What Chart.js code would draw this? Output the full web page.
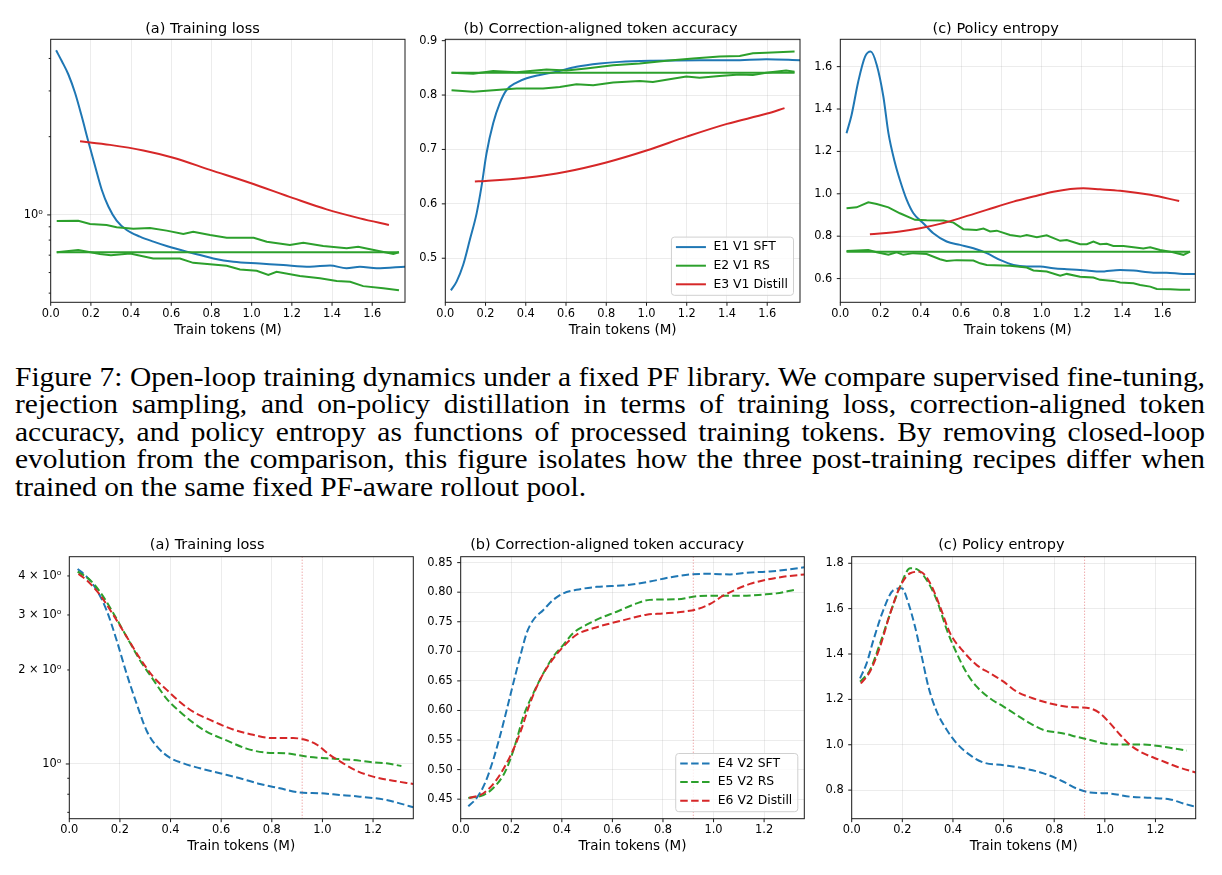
<!DOCTYPE html>
<html>
<head>
<meta charset="utf-8">
<script src="https://cdn.jsdelivr.net/npm/chart.js@4.4.1/dist/chart.umd.min.js"></script>
<style>
  html, body { margin: 0; padding: 0; background: #fff; }
  #fig { position: relative; width: 1222px; height: 875px; overflow: hidden; background: #fff; }
  #fig canvas { position: absolute; }
  .cap {
    position: absolute; left: 15px; white-space: normal;
    font-family: 'Liberation Serif', 'Times New Roman', serif;
    font-size: 28px; line-height: 28px; color: #000;
    text-align: justify; text-align-last: justify; transform-origin: 0 0;
  }
  .cap.last { text-align-last: left; }
</style>
</head>
<body>
<div id="fig"></div>
<script>
// ---- tick values / labels ----
const xTicks1 = [0, 0.2, 0.4, 0.6, 0.8, 1.0, 1.2, 1.4, 1.6];
const xTickLabels1 = ['0.0', '0.2', '0.4', '0.6', '0.8', '1.0', '1.2', '1.4', '1.6'];
const xTicks2 = [0, 0.2, 0.4, 0.6, 0.8, 1.0, 1.2];
const xTickLabels2 = ['0.0', '0.2', '0.4', '0.6', '0.8', '1.0', '1.2'];

const lossTicks1 = [0.5, 0.6, 0.7, 0.8, 0.9, 1, 2, 3, 4];
const lossTickLabels1 = ['', '', '', '', '', '10\u2070', '', '', ''];
const accTicks1 = [0.5, 0.6, 0.7, 0.8, 0.9];
const accTickLabels1 = ['0.5', '0.6', '0.7', '0.8', '0.9'];
const entTicks1 = [0.6, 0.8, 1.0, 1.2, 1.4, 1.6];
const entTickLabels1 = ['0.6', '0.8', '1.0', '1.2', '1.4', '1.6'];

const lossTicks2 = [0.7, 0.8, 0.9, 1, 2, 3, 4];
const lossTickLabels2 = ['', '', '', '10\u2070', '2 \u00d7 10\u2070', '3 \u00d7 10\u2070', '4 \u00d7 10\u2070'];
const accTicks2 = [0.45, 0.5, 0.55, 0.6, 0.65, 0.7, 0.75, 0.8, 0.85];
const accTickLabels2 = ['0.45', '0.50', '0.55', '0.60', '0.65', '0.70', '0.75', '0.80', '0.85'];
const entTicks2 = [0.8, 1.0, 1.2, 1.4, 1.6, 1.8];
const entTickLabels2 = ['0.8', '1.0', '1.2', '1.4', '1.6', '1.8'];

// ---- top row (V1, fixed library) ----
const lossSftX = [0.027, 0.055, 0.088, 0.121, 0.154, 0.187, 0.221, 0.254, 0.287, 0.328, 0.378, 0.444, 0.511, 0.577, 0.677, 0.743, 0.809, 0.909, 1.041, 1.157, 1.29, 1.39, 1.472, 1.539, 1.622, 1.763];
const lossSftY = [4.30, 3.91, 3.47, 2.95, 2.40, 1.92, 1.54, 1.25, 1.077, 0.951, 0.875, 0.825, 0.789, 0.759, 0.722, 0.701, 0.68, 0.66, 0.65, 0.641, 0.632, 0.639, 0.623, 0.632, 0.623, 0.632];
const lossRsAX = [0.03, 0.137, 0.196, 0.278, 0.328, 0.411, 0.494, 0.577, 0.66, 0.709, 0.793, 0.876, 1.01, 1.075, 1.19, 1.257, 1.356, 1.473, 1.53, 1.62, 1.705, 1.733];
const lossRsAY = [0.948, 0.95, 0.923, 0.915, 0.897, 0.885, 0.891, 0.87, 0.845, 0.862, 0.837, 0.817, 0.817, 0.789, 0.766, 0.782, 0.759, 0.744, 0.754, 0.729, 0.707, 0.718];
const lossRsBX = [0.03, 1.733];
const lossRsBY = [0.718, 0.718];
const lossRsCX = [0.03, 0.137, 0.245, 0.3, 0.395, 0.51, 0.643, 0.709, 0.876, 0.942, 1.025, 1.083, 1.124, 1.24, 1.34, 1.423, 1.49, 1.555, 1.655, 1.733];
const lossRsCY = [0.718, 0.733, 0.707, 0.70, 0.71, 0.68, 0.68, 0.654, 0.637, 0.617, 0.61, 0.587, 0.604, 0.582, 0.57, 0.557, 0.553, 0.532, 0.522, 0.513];
const lossDistX = [0.146, 0.295, 0.461, 0.61, 0.793, 0.99, 1.207, 1.373, 1.539, 1.683];
const lossDistY = [1.92, 1.86, 1.77, 1.66, 1.49, 1.33, 1.16, 1.05, 0.97, 0.915];

const accSftX = [0.028, 0.056, 0.089, 0.122, 0.156, 0.18, 0.205, 0.238, 0.271, 0.304, 0.354, 0.404, 0.47, 0.553, 0.652, 0.768, 0.867, 1.032, 1.264, 1.43, 1.595, 1.763];
const accSftY = [0.441, 0.457, 0.488, 0.534, 0.583, 0.632, 0.693, 0.748, 0.785, 0.809, 0.823, 0.831, 0.837, 0.843, 0.852, 0.858, 0.861, 0.863, 0.864, 0.864, 0.866, 0.864];
const accRsAX = [0.031, 0.139, 0.238, 0.354, 0.503, 0.602, 0.7, 0.834, 0.966, 1.099, 1.231, 1.363, 1.463, 1.529, 1.595, 1.736];
const accRsAY = [0.841, 0.839, 0.844, 0.842, 0.847, 0.845, 0.849, 0.855, 0.858, 0.863, 0.867, 0.871, 0.872, 0.877, 0.878, 0.88];
const accRsBX = [0.031, 1.736];
const accRsBY = [0.841, 0.841];
const accRsCX = [0.031, 0.139, 0.238, 0.354, 0.486, 0.569, 0.652, 0.735, 0.834, 0.966, 1.032, 1.099, 1.198, 1.264, 1.363, 1.463, 1.529, 1.595, 1.694, 1.736];
const accRsCY = [0.809, 0.806, 0.809, 0.812, 0.812, 0.815, 0.82, 0.818, 0.823, 0.826, 0.824, 0.828, 0.834, 0.832, 0.835, 0.838, 0.837, 0.841, 0.845, 0.843];
const accDistX = [0.147, 0.2, 0.4, 0.6, 0.8, 1.0, 1.2, 1.4, 1.6, 1.686];
const accDistY = [0.641, 0.642, 0.648, 0.659, 0.676, 0.698, 0.7235, 0.747, 0.766, 0.776];

const entSftX = [0.031, 0.056, 0.089, 0.123, 0.151, 0.181, 0.214, 0.239, 0.272, 0.296, 0.33, 0.363, 0.412, 0.462, 0.528, 0.595, 0.661, 0.727, 0.793, 0.86, 0.926, 0.992, 1.058, 1.125, 1.224, 1.29, 1.39, 1.456, 1.555, 1.62, 1.704, 1.763];
const entSftY = [1.286, 1.372, 1.529, 1.647, 1.671, 1.608, 1.458, 1.286, 1.144, 1.065, 0.971, 0.908, 0.861, 0.814, 0.775, 0.759, 0.743, 0.72, 0.688, 0.664, 0.657, 0.657, 0.649, 0.644, 0.638, 0.633, 0.641, 0.638, 0.628, 0.628, 0.622, 0.622];
const entRsAX = [0.031, 0.081, 0.139, 0.181, 0.239, 0.296, 0.371, 0.429, 0.512, 0.562, 0.611, 0.677, 0.711, 0.744, 0.777, 0.843, 0.893, 0.926, 0.976, 1.025, 1.092, 1.125, 1.191, 1.224, 1.257, 1.29, 1.323, 1.356, 1.406, 1.456, 1.505, 1.539, 1.588, 1.638, 1.704, 1.737];
const entRsAY = [0.932, 0.936, 0.96, 0.952, 0.936, 0.908, 0.877, 0.875, 0.874, 0.864, 0.833, 0.829, 0.836, 0.822, 0.826, 0.806, 0.798, 0.806, 0.795, 0.804, 0.778, 0.782, 0.762, 0.762, 0.775, 0.762, 0.764, 0.754, 0.754, 0.748, 0.742, 0.748, 0.735, 0.727, 0.712, 0.727];
const entRsBX = [0.031, 1.737];
const entRsBY = [0.727, 0.727];
const entRsCX = [0.031, 0.139, 0.181, 0.239, 0.28, 0.313, 0.363, 0.429, 0.495, 0.528, 0.578, 0.661, 0.694, 0.727, 0.843, 0.926, 0.959, 1.025, 1.092, 1.125, 1.191, 1.257, 1.29, 1.356, 1.39, 1.456, 1.489, 1.539, 1.572, 1.638, 1.688, 1.737];
const entRsCY = [0.73, 0.735, 0.724, 0.712, 0.724, 0.712, 0.72, 0.716, 0.691, 0.683, 0.687, 0.685, 0.672, 0.664, 0.66, 0.652, 0.638, 0.633, 0.613, 0.622, 0.609, 0.605, 0.594, 0.589, 0.581, 0.578, 0.57, 0.562, 0.551, 0.55, 0.547, 0.547];
const entDistX = [0.147, 0.296, 0.396, 0.495, 0.595, 0.727, 0.86, 0.959, 1.058, 1.207, 1.29, 1.39, 1.539, 1.683];
const entDistY = [0.809, 0.822, 0.837, 0.858, 0.885, 0.924, 0.963, 0.987, 1.01, 1.026, 1.021, 1.014, 0.995, 0.966];

// ---- bottom row (V2) ----
const switchTokens = 0.92;

const loss2SftX = [0.033, 0.068, 0.108, 0.147, 0.187, 0.226, 0.266, 0.305, 0.345, 0.397, 0.45, 0.516, 0.595, 0.674, 0.753, 0.832, 0.911, 0.989, 1.068, 1.147, 1.253, 1.305, 1.359];
const loss2SftY = [4.21, 3.98, 3.61, 3.11, 2.49, 1.95, 1.56, 1.28, 1.14, 1.048, 1.005, 0.969, 0.934, 0.9, 0.863, 0.836, 0.81, 0.806, 0.796, 0.786, 0.767, 0.748, 0.727];
const loss2RsX = [0.033, 0.082, 0.121, 0.174, 0.226, 0.279, 0.332, 0.384, 0.437, 0.489, 0.542, 0.621, 0.7, 0.779, 0.858, 0.937, 1.016, 1.121, 1.2, 1.253, 1.312];
const loss2RsY = [4.13, 3.88, 3.56, 3.04, 2.56, 2.15, 1.86, 1.62, 1.47, 1.356, 1.27, 1.19, 1.12, 1.087, 1.082, 1.056, 1.043, 1.03, 1.012, 1.005, 0.985];
const loss2DistX = [0.036, 0.068, 0.121, 0.174, 0.226, 0.279, 0.332, 0.384, 0.437, 0.489, 0.542, 0.595, 0.647, 0.726, 0.805, 0.884, 0.924, 0.976, 1.029, 1.082, 1.134, 1.2, 1.279, 1.359];
const loss2DistY = [4.06, 3.88, 3.48, 3.0, 2.56, 2.18, 1.9, 1.73, 1.58, 1.47, 1.40, 1.34, 1.29, 1.24, 1.21, 1.21, 1.2, 1.156, 1.069, 1.005, 0.952, 0.911, 0.884, 0.863];

const acc2SftX = [0.03, 0.063, 0.096, 0.129, 0.155, 0.182, 0.208, 0.235, 0.261, 0.287, 0.327, 0.366, 0.406, 0.458, 0.538, 0.656, 0.748, 0.827, 0.906, 0.986, 1.065, 1.13, 1.223, 1.289, 1.359];
const acc2SftY = [0.438, 0.452, 0.477, 0.517, 0.556, 0.601, 0.646, 0.691, 0.731, 0.753, 0.77, 0.787, 0.798, 0.804, 0.809, 0.812, 0.818, 0.825, 0.83, 0.831, 0.83, 0.833, 0.835, 0.838, 0.842];
const acc2RsX = [0.03, 0.09, 0.129, 0.169, 0.195, 0.221, 0.248, 0.287, 0.327, 0.366, 0.406, 0.445, 0.498, 0.551, 0.617, 0.696, 0.748, 0.854, 0.933, 1.012, 1.117, 1.196, 1.249, 1.321];
const acc2RsY = [0.452, 0.457, 0.469, 0.491, 0.516, 0.55, 0.59, 0.629, 0.663, 0.691, 0.711, 0.731, 0.745, 0.756, 0.767, 0.781, 0.787, 0.788, 0.793, 0.794, 0.794, 0.796, 0.798, 0.804];
const acc2DistX = [0.034, 0.09, 0.142, 0.195, 0.235, 0.274, 0.314, 0.353, 0.406, 0.458, 0.524, 0.59, 0.656, 0.735, 0.801, 0.88, 0.933, 0.986, 1.038, 1.091, 1.144, 1.209, 1.275, 1.359];
const acc2DistY = [0.452, 0.46, 0.483, 0.522, 0.562, 0.612, 0.652, 0.68, 0.708, 0.728, 0.739, 0.747, 0.754, 0.762, 0.764, 0.767, 0.771, 0.78, 0.794, 0.805, 0.814, 0.821, 0.826, 0.83];

const ent2SftX = [0.033, 0.059, 0.086, 0.125, 0.165, 0.198, 0.224, 0.25, 0.277, 0.303, 0.336, 0.376, 0.415, 0.468, 0.52, 0.6, 0.679, 0.758, 0.837, 0.889, 0.942, 1.021, 1.1, 1.179, 1.258, 1.311, 1.359];
const ent2SftY = [1.293, 1.359, 1.462, 1.594, 1.682, 1.69, 1.624, 1.521, 1.388, 1.256, 1.146, 1.065, 1.006, 0.954, 0.922, 0.91, 0.896, 0.874, 0.837, 0.807, 0.79, 0.785, 0.771, 0.766, 0.759, 0.741, 0.726];
const ent2RsX = [0.033, 0.072, 0.112, 0.152, 0.191, 0.231, 0.257, 0.296, 0.336, 0.376, 0.415, 0.455, 0.494, 0.547, 0.6, 0.652, 0.705, 0.758, 0.837, 0.889, 0.942, 0.995, 1.074, 1.153, 1.232, 1.324];
const ent2RsY = [1.278, 1.329, 1.447, 1.579, 1.697, 1.778, 1.774, 1.726, 1.638, 1.506, 1.403, 1.315, 1.256, 1.204, 1.168, 1.131, 1.094, 1.065, 1.05, 1.035, 1.021, 1.006, 1.001, 1.001, 0.991, 0.974];
const ent2DistX = [0.036, 0.072, 0.112, 0.152, 0.191, 0.231, 0.27, 0.31, 0.349, 0.389, 0.442, 0.494, 0.547, 0.6, 0.652, 0.718, 0.784, 0.85, 0.889, 0.942, 0.982, 1.021, 1.061, 1.1, 1.153, 1.219, 1.285, 1.359];
const ent2DistY = [1.27, 1.322, 1.432, 1.579, 1.697, 1.756, 1.763, 1.712, 1.609, 1.491, 1.41, 1.351, 1.315, 1.278, 1.234, 1.204, 1.182, 1.168, 1.165, 1.16, 1.138, 1.094, 1.043, 0.999, 0.962, 0.932, 0.903, 0.878];

const captionLines = [
  'Figure 7: Open-loop training dynamics under a fixed PF library. We compare supervised fine-tuning,',
  'rejection sampling, and on-policy distillation in terms of training loss, correction-aligned token',
  'accuracy, and policy entropy as functions of processed training tokens.  By removing closed-loop',
  'evolution from the comparison, this figure isolates how the three post-training recipes differ when',
  'trained on the same fixed PF-aware rollout pool.',
];

// ---- styling ----
const TAB_BLUE = '#1f77b4';
const TAB_GREEN = '#2ca02c';
const TAB_RED = '#d62728';
const FONT = '"DejaVu Sans", sans-serif';
const GRID = 'rgba(176,176,176,0.3)';
const SPINE = '#1a1a1a';
const LINE_W = 2;
const DASH = [7.5, 3.4];

Chart.defaults.font.family = FONT;
Chart.defaults.color = '#000';

function pts(xs, ys) {
  return xs.map((x, i) => ({ x, y: ys[i] }));
}

function series(label, xs, ys, color, opts = {}) {
  return {
    label,
    data: pts(xs, ys),
    borderColor: color,
    backgroundColor: color,
    borderWidth: opts.width || LINE_W,
    borderDash: opts.dash || [],
    pointRadius: 0,
    pointHoverRadius: 0,
    fill: false,
    tension: 0,
    cubicInterpolationMode: opts.jagged ? 'default' : 'monotone',
    showInLegend: !!opts.legend,
    order: opts.order || 0,
  };
}

function switchLine(yMin, yMax) {
  return series('', [switchTokens, switchTokens], [yMin, yMax], 'rgba(214,39,40,0.55)',
    { jagged: true, width: 1, dash: [1, 2], order: 0 });
}

// draws spines, outward tick marks and the in-axes legend, matplotlib style
const mplAxes = {
  id: 'mplAxes',
  afterDatasetsDraw(chart, args, opts) {
    const ctx = chart.ctx;
    const a = chart.chartArea;
    const xs = chart.scales.x;
    const ys = chart.scales.y;
    ctx.save();
    ctx.strokeStyle = SPINE;
    ctx.lineWidth = 1;
    ctx.beginPath();
    xs.ticks.forEach(t => {
      const px = xs.getPixelForValue(t.value);
      ctx.moveTo(px, a.bottom);
      ctx.lineTo(px, a.bottom + 3.5);
    });
    ys.ticks.forEach(t => {
      const py = ys.getPixelForValue(t.value);
      const len = opts.yMajor && !opts.yMajor.includes(t.value) ? 2 : 3.5;
      ctx.moveTo(a.left - len, py);
      ctx.lineTo(a.left, py);
    });
    ctx.stroke();
    ctx.strokeRect(a.left, a.top, a.right - a.left, a.bottom - a.top);
    ctx.restore();
  },
  afterDraw(chart, args, opts) {
    if (!opts.legend) return;
    const items = chart.data.datasets.filter(d => d.showInLegend);
    const ctx = chart.ctx;
    const a = chart.chartArea;
    ctx.save();
    ctx.font = '12.4px ' + FONT;
    const tw = Math.max(...items.map(d => ctx.measureText(d.label).width));
    const padL = 4.5, handle = 30, gap = 7.5, padR = 5.5, rowH = 18.6, padT = 10, padB = 11;
    const w = padL + handle + gap + tw + padR;
    const h = padT + rowH * (items.length - 1) + padB;
    const x0 = a.right - 6.5 - w;
    const y0 = a.bottom - 7 - h;
    ctx.beginPath();
    ctx.roundRect(x0, y0, w, h, 3);
    ctx.fillStyle = 'rgba(255,255,255,0.8)';
    ctx.fill();
    ctx.strokeStyle = '#d0d0d0';
    ctx.lineWidth = 1;
    ctx.stroke();
    items.forEach((d, i) => {
      const cy = y0 + padT + i * rowH;
      ctx.beginPath();
      ctx.setLineDash(d.borderDash);
      ctx.strokeStyle = d.borderColor;
      ctx.lineWidth = d.borderWidth;
      ctx.moveTo(x0 + padL, cy);
      ctx.lineTo(x0 + padL + handle, cy);
      ctx.stroke();
      ctx.setLineDash([]);
      ctx.fillStyle = '#000';
      ctx.textBaseline = 'middle';
      ctx.fillText(d.label, x0 + padL + handle + gap, cy);
    });
    ctx.restore();
  },
};

const panels = [
  {
    L: 50.7, T: 39.3, R: 405, B: 302.3, yw: 50, gap: 1.6, title: '(a) Training loss',
    yType: 'logarithmic', yMin: 0.461, yMax: 4.74, yTicks: lossTicks1, yLabels: lossTickLabels1, yMajor: [1],
    xMax: 1.763, xTicks: xTicks1, xLabels: xTickLabels1,
    datasets: [
      series('E1 V1 SFT', lossSftX, lossSftY, TAB_BLUE, { legend: true, order: 3 }),
      series('E2 V1 RS', lossRsAX, lossRsAY, TAB_GREEN, { legend: true, jagged: true, order: 2 }),
      series('', lossRsBX, lossRsBY, TAB_GREEN, { jagged: true, order: 2 }),
      series('', lossRsCX, lossRsCY, TAB_GREEN, { jagged: true, order: 2 }),
      series('E3 V1 Distill', lossDistX, lossDistY, TAB_RED, { legend: true, order: 1 }),
    ],
  },
  {
    L: 445.3, T: 39.3, R: 800, B: 302.3, yw: 44, gap: 1.6, title: '(b) Correction-aligned token accuracy',
    yType: 'linear', yMin: 0.419, yMax: 0.9025, yTicks: accTicks1, yLabels: accTickLabels1,
    xMax: 1.763, xTicks: xTicks1, xLabels: xTickLabels1, legend: true,
    datasets: [
      series('E1 V1 SFT', accSftX, accSftY, TAB_BLUE, { legend: true, order: 3 }),
      series('E2 V1 RS', accRsAX, accRsAY, TAB_GREEN, { legend: true, jagged: true, order: 2 }),
      series('', accRsBX, accRsBY, TAB_GREEN, { jagged: true, order: 2 }),
      series('', accRsCX, accRsCY, TAB_GREEN, { jagged: true, order: 2 }),
      series('E3 V1 Distill', accDistX, accDistY, TAB_RED, { legend: true, order: 1 }),
    ],
  },
  {
    L: 840.3, T: 39.3, R: 1195.3, B: 302.3, yw: 44, gap: 1.6, title: '(c) Policy entropy',
    yType: 'linear', yMin: 0.488, yMax: 1.729, yTicks: entTicks1, yLabels: entTickLabels1,
    xMax: 1.763, xTicks: xTicks1, xLabels: xTickLabels1,
    datasets: [
      series('E1 V1 SFT', entSftX, entSftY, TAB_BLUE, { legend: true, order: 3 }),
      series('E2 V1 RS', entRsAX, entRsAY, TAB_GREEN, { legend: true, jagged: true, order: 2 }),
      series('', entRsBX, entRsBY, TAB_GREEN, { jagged: true, order: 2 }),
      series('', entRsCX, entRsCY, TAB_GREEN, { jagged: true, order: 2 }),
      series('E3 V1 Distill', entDistX, entDistY, TAB_RED, { legend: true, order: 1 }),
    ],
  },
  {
    L: 69.3, T: 556.7, R: 413.3, B: 818.7, yw: 68, gap: 3.0, title: '(a) Training loss',
    yType: 'logarithmic', yMin: 0.668, yMax: 4.61, yTicks: lossTicks2, yLabels: lossTickLabels2, yMajor: [1],
    xMax: 1.359, xTicks: xTicks2, xLabels: xTickLabels2,
    datasets: [
      switchLine(0.668, 4.61),
      series('E4 V2 SFT', loss2SftX, loss2SftY, TAB_BLUE, { legend: true, dash: DASH, order: 3 }),
      series('E5 V2 RS', loss2RsX, loss2RsY, TAB_GREEN, { legend: true, dash: DASH, order: 2 }),
      series('E6 V2 Distill', loss2DistX, loss2DistY, TAB_RED, { legend: true, dash: DASH, order: 1 }),
    ],
  },
  {
    L: 460.7, T: 556.7, R: 804.3, B: 818.7, yw: 50, gap: 3.0, title: '(b) Correction-aligned token accuracy',
    yType: 'linear', yMin: 0.417, yMax: 0.860, yTicks: accTicks2, yLabels: accTickLabels2,
    xMax: 1.359, xTicks: xTicks2, xLabels: xTickLabels2, legend: true,
    datasets: [
      switchLine(0.417, 0.860),
      series('E4 V2 SFT', acc2SftX, acc2SftY, TAB_BLUE, { legend: true, dash: DASH, order: 3 }),
      series('E5 V2 RS', acc2RsX, acc2RsY, TAB_GREEN, { legend: true, dash: DASH, order: 2 }),
      series('E6 V2 Distill', acc2DistX, acc2DistY, TAB_RED, { legend: true, dash: DASH, order: 1 }),
    ],
  },
  {
    L: 851.7, T: 556.7, R: 1195.7, B: 818.7, yw: 44, gap: 3.0, title: '(c) Policy entropy',
    yType: 'linear', yMin: 0.674, yMax: 1.829, yTicks: entTicks2, yLabels: entTickLabels2,
    xMax: 1.359, xTicks: xTicks2, xLabels: xTickLabels2,
    datasets: [
      switchLine(0.674, 1.829),
      series('E4 V2 SFT', ent2SftX, ent2SftY, TAB_BLUE, { legend: true, dash: DASH, order: 3 }),
      series('E5 V2 RS', ent2RsX, ent2RsY, TAB_GREEN, { legend: true, dash: DASH, order: 2 }),
      series('E6 V2 Distill', ent2DistX, ent2DistY, TAB_RED, { legend: true, dash: DASH, order: 1 }),
    ],
  },
];

const fig = document.getElementById('fig');
const TITLE_SIZE = 14.5;
const LABEL_SIZE = 13.5;
const TICK_SIZE = 11.4;
const X_AXIS_H = 36;

function makePanel(p) {
  const left = Math.floor(p.L - p.yw);
  const top = Math.floor(p.T - 24);
  const width = Math.ceil(p.R - left + 14);
  const height = Math.ceil(p.B - top + X_AXIS_H + 4);
  const titleLH = TITLE_SIZE * 1.2;
  const canvas = document.createElement('canvas');
  canvas.width = width;
  canvas.height = height;
  canvas.style.left = left + 'px';
  canvas.style.top = top + 'px';
  canvas.style.width = width + 'px';
  canvas.style.height = height + 'px';
  fig.appendChild(canvas);

  const yAxisW = p.L - left;
  const padRight = width - (p.R - left);
  const padBottom = height - X_AXIS_H - (p.B - top);

  new Chart(canvas, {
    type: 'line',
    data: { datasets: p.datasets },
    plugins: [mplAxes],
    options: {
      responsive: false,
      animation: false,
      devicePixelRatio: 1,
      events: [],
      layout: { padding: { left: 0, top: 0, right: padRight, bottom: padBottom } },
      scales: {
        x: {
          type: 'linear', min: 0, max: p.xMax, bounds: 'data',
          afterBuildTicks: s => { s.ticks = p.xTicks.map(v => ({ value: v })); },
          afterFit: s => { s.height = X_AXIS_H; },
          ticks: {
            autoSkip: false, maxRotation: 0, padding: 5,
            font: { size: TICK_SIZE }, color: '#000',
            callback: v => p.xLabels[p.xTicks.indexOf(v)],
          },
          grid: { color: GRID, lineWidth: 0.8, drawTicks: false },
          border: { display: false },
          title: {
            display: true, text: 'Train tokens (M)', color: '#000',
            font: { size: LABEL_SIZE }, padding: { top: 0, bottom: 0 },
          },
        },
        y: {
          type: p.yType, min: p.yMin, max: p.yMax, bounds: 'data',
          afterBuildTicks: s => { s.ticks = p.yTicks.map(v => ({ value: v })); },
          afterFit: s => { s.width = yAxisW; },
          ticks: {
            autoSkip: false, padding: 8,
            font: { size: TICK_SIZE }, color: '#000',
            callback: v => p.yLabels[p.yTicks.indexOf(v)],
          },
          grid: {
            lineWidth: 0.8, drawTicks: false,
            color: c => (!p.yMajor || p.yMajor.includes(c.tick.value)) ? GRID : 'rgba(0,0,0,0)',
          },
          border: { display: false },
        },
      },
      plugins: {
        legend: { display: false },
        tooltip: { enabled: false },
        title: {
          display: true, text: p.title, color: '#000',
          font: { size: TITLE_SIZE, weight: 'normal', lineHeight: 1.2 },
          padding: { top: p.T - top - titleLH - p.gap, bottom: p.gap },
        },
        mplAxes: { legend: !!p.legend, yMajor: p.yMajor },
      },
    },
  });
}

panels.forEach(makePanel);

// caption: justified lines, condensed to the column width
(function caption() {
  const colLeft = 15, colWidth = 1190, base0 = 386, step = 27.5, ascentOff = 23.45;
  const mctx = document.createElement('canvas').getContext('2d');
  mctx.font = '28px "Liberation Serif"';
  const maxW = Math.max(...captionLines.slice(0, 4).map(t => mctx.measureText(t).width));
  const s = colWidth / (maxW + 2);
  captionLines.forEach((t, i) => {
    const d = document.createElement('div');
    d.className = 'cap' + (i === captionLines.length - 1 ? ' last' : '');
    d.textContent = t;
    d.style.left = colLeft + 'px';
    d.style.top = (base0 + i * step - ascentOff) + 'px';
    d.style.width = (colWidth / s) + 'px';
    d.style.transform = 'scaleX(' + s + ')';
    fig.appendChild(d);
  });
})();
</script>
</body>
</html>
